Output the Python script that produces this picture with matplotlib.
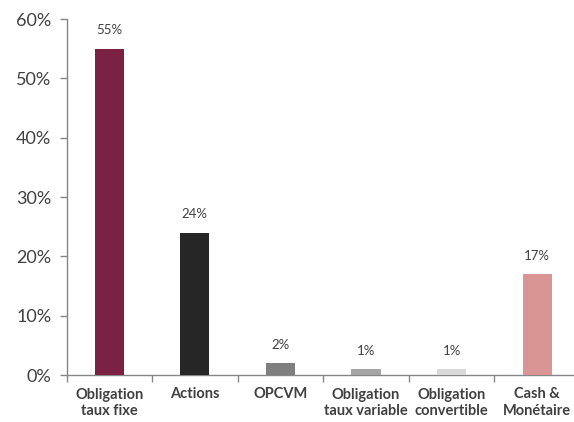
import matplotlib
matplotlib.use("Agg")
import matplotlib.pyplot as plt
import numpy as np

categories = ["Obligation\ntaux fixe", "Actions", "OPCVM", "Obligation\ntaux variable", "Obligation\nconvertible", "Cash &\nMonétaire"]
values = [55, 24, 2, 1, 1, 17]
colors = ["#7B2143", "#262626", "#7F7F7F", "#A5A5A5", "#D9D9D9", "#D99594"]
yticks = [0, 10, 20, 30, 40, 50, 60]

plt.rcParams['font.family'] = ['Lato', 'DejaVu Sans']
fig = plt.figure(figsize=(5.74, 4.22), dpi=100)
W, H = 574, 422
x0, x1 = 66.5, 580
y0, y1 = 375, 19
ax = fig.add_axes([x0 / W, 1 - y0 / H, (x1 - x0) / W, (y0 - y1) / H])

x = np.arange(len(categories))
ax.bar(x, values, width=0.34, color=colors, zorder=3)
for xi, v in zip(x, values):
    ax.annotate(f"{v}%", (xi, v), xytext=(0, 9), textcoords="offset points",
                ha="center", va="bottom", fontsize=9.5, color="#404040")

ax.set_xlim(-0.5, len(categories) - 0.5)
ax.set_ylim(0, 60)
ax.set_yticks(yticks)
ax.set_yticklabels([f"{t}%" for t in yticks], fontsize=13, color="#404040")
ax.set_xticks(np.arange(len(categories) + 1) - 0.5)
ax.set_xticklabels([])
ax.set_xticks(x, minor=True)
ax.set_xticklabels(categories, minor=True, fontsize=10.5, fontweight="bold", color="#404040",
                   linespacing=1.25)
ax.tick_params(axis="x", which="minor", length=0, pad=9)
ax.tick_params(axis="x", which="major", length=5, color="#868686", width=1)
ax.tick_params(axis="y", length=5, color="#868686", width=1, pad=6)
for s in ["top", "right"]:
    ax.spines[s].set_visible(False)
for s in ["left", "bottom"]:
    ax.spines[s].set_color("#868686")
    ax.spines[s].set_linewidth(1)

fig.savefig("out.png", dpi=100)
